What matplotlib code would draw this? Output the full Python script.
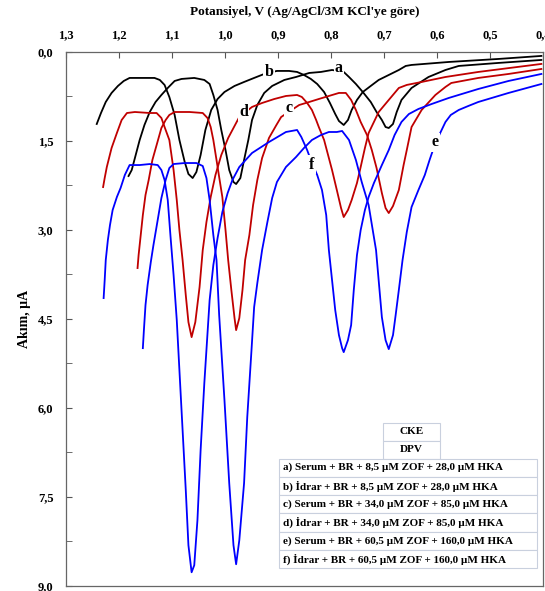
import matplotlib
matplotlib.use("Agg")
import matplotlib.pyplot as plt
from matplotlib.ticker import MultipleLocator, FuncFormatter
from matplotlib.patches import Rectangle

plt.rcParams['font.family'] = ['Liberation Serif', 'DejaVu Serif']
plt.rcParams['font.weight'] = 'bold'

# potential (V) and current (uA)
b_v = [1.242, 1.234, 1.225, 1.214, 1.202, 1.191, 1.180, 1.152, 1.133, 1.123, 1.114, 1.105, 1.095, 1.086,
       1.076, 1.069, 1.061, 1.054, 1.046, 1.037, 1.026, 1.014, 1.001, 0.982, 0.964, 0.945, 0.926, 0.902,
       0.879, 0.864, 0.851, 0.838, 0.826, 0.813, 0.802, 0.792, 0.785, 0.776, 0.768, 0.761, 0.751, 0.740,
       0.725, 0.710, 0.691, 0.672, 0.659, 0.648, 0.578, 0.484, 0.403]
b_i = [1.214, 1.029, 0.843, 0.691, 0.573, 0.489, 0.438, 0.438, 0.438, 0.472, 0.556, 0.759, 1.062, 1.484,
       1.855, 2.057, 2.125, 2.024, 1.737, 1.315, 0.978, 0.793, 0.675, 0.573, 0.506, 0.438, 0.371, 0.320,
       0.320, 0.337, 0.388, 0.455, 0.540, 0.675, 0.860, 1.046, 1.164, 1.231, 1.147, 0.978, 0.809, 0.675,
       0.573, 0.472, 0.388, 0.304, 0.236, 0.219, 0.169, 0.118, 0.067]

a_v = [1.182, 1.176, 1.170, 1.161, 1.152, 1.142, 1.131, 1.120, 1.108, 1.095, 1.082, 1.058, 1.039, 1.029,
       1.022, 1.014, 1.007, 0.999, 0.992, 0.984, 0.979, 0.971, 0.964, 0.956, 0.949, 0.939, 0.926, 0.911,
       0.888, 0.866, 0.841, 0.819, 0.798, 0.776, 0.766, 0.753, 0.740, 0.725, 0.714, 0.704, 0.697, 0.691,
       0.683, 0.676, 0.667, 0.648, 0.616, 0.584, 0.559, 0.484, 0.403]
a_i = [2.091, 1.990, 1.788, 1.484, 1.231, 1.012, 0.843, 0.725, 0.607, 0.489, 0.455, 0.438, 0.472, 0.540,
       0.725, 0.978, 1.315, 1.653, 1.990, 2.192, 2.226, 2.125, 1.821, 1.484, 1.147, 0.894, 0.691, 0.573,
       0.472, 0.422, 0.354, 0.337, 0.304, 0.337, 0.422, 0.540, 0.675, 0.843, 1.012, 1.147, 1.265, 1.282,
       1.214, 1.012, 0.809, 0.607, 0.422, 0.304, 0.236, 0.185, 0.135]

d_v = [1.230, 1.227, 1.223, 1.214, 1.204, 1.195, 1.185, 1.170, 1.142, 1.129, 1.120, 1.114, 1.105, 1.097,
       1.091, 1.086, 1.080, 1.074, 1.069, 1.063, 1.056, 1.048, 1.042, 1.035, 1.027, 1.018, 1.007, 0.994,
       0.980, 0.973, 0.949, 0.930, 0.907, 0.885, 0.864, 0.855, 0.845, 0.836, 0.828, 0.823, 0.813, 0.808,
       0.798, 0.789, 0.781, 0.776, 0.768, 0.761, 0.751, 0.744, 0.736, 0.729, 0.719, 0.710, 0.691, 0.672,
       0.657, 0.629, 0.584, 0.522, 0.403]
d_i = [2.277, 2.125, 1.939, 1.619, 1.366, 1.147, 1.029, 1.012, 1.029, 1.029, 1.113, 1.265, 1.484, 1.990,
       2.496, 3.002, 3.508, 4.098, 4.553, 4.806, 4.553, 3.963, 3.339, 2.867, 2.445, 2.074, 1.737, 1.450,
       1.214, 1.096, 0.927, 0.860, 0.793, 0.742, 0.725, 0.759, 0.860, 0.978, 1.147, 1.265, 1.484, 1.653,
       1.990, 2.327, 2.631, 2.782, 2.664, 2.496, 2.209, 1.939, 1.619, 1.366, 1.180, 1.012, 0.809, 0.607,
       0.556, 0.506, 0.422, 0.337, 0.202]

c_v = [1.165, 1.163, 1.159, 1.155, 1.150, 1.144, 1.137, 1.129, 1.120, 1.112, 1.105, 1.095, 1.067, 1.042,
       1.033, 1.027, 1.022, 1.016, 1.011, 1.005, 0.999, 0.994, 0.988, 0.982, 0.979, 0.973, 0.967, 0.962,
       0.954, 0.947, 0.939, 0.930, 0.917, 0.903, 0.894, 0.860, 0.841, 0.823, 0.804, 0.785, 0.772, 0.762,
       0.753, 0.744, 0.732, 0.723, 0.714, 0.704, 0.697, 0.691, 0.683, 0.672, 0.663, 0.657, 0.648, 0.629,
       0.603, 0.584, 0.573, 0.522, 0.465, 0.403]
c_i = [3.642, 3.423, 3.086, 2.749, 2.411, 2.158, 1.821, 1.568, 1.282, 1.147, 1.062, 1.012, 1.012, 1.029,
       1.113, 1.265, 1.484, 1.821, 2.108, 2.445, 3.002, 3.508, 4.013, 4.486, 4.688, 4.486, 4.013, 3.508,
       3.086, 2.580, 2.158, 1.788, 1.450, 1.231, 1.096, 0.894, 0.843, 0.793, 0.742, 0.691, 0.691, 0.809,
       0.978, 1.180, 1.400, 1.653, 1.956, 2.378, 2.631, 2.715, 2.597, 2.327, 1.906, 1.653, 1.265, 0.978,
       0.725, 0.590, 0.523, 0.438, 0.371, 0.287]

f_v = [1.229, 1.227, 1.225, 1.221, 1.217, 1.212, 1.204, 1.197, 1.189, 1.180, 1.161, 1.142, 1.127, 1.120,
       1.114, 1.108, 1.103, 1.097, 1.091, 1.086, 1.080, 1.074, 1.069, 1.063, 1.058, 1.052, 1.046, 1.039,
       1.029, 1.022, 1.014, 1.005, 0.995, 0.986, 0.973, 0.949, 0.917, 0.885, 0.864, 0.856, 0.845, 0.836,
       0.826, 0.817, 0.809, 0.804, 0.798, 0.792, 0.785, 0.779, 0.776, 0.768, 0.762, 0.757, 0.751, 0.744,
       0.736, 0.729, 0.719, 0.704, 0.691, 0.680, 0.667, 0.653, 0.635, 0.610, 0.578, 0.522, 0.465, 0.403]
f_i = [4.148, 3.845, 3.508, 3.170, 2.917, 2.664, 2.445, 2.293, 2.074, 1.906, 1.906, 1.889, 1.906, 1.990,
       2.158, 2.496, 3.086, 3.760, 4.519, 5.363, 6.374, 7.386, 8.313, 8.769, 8.651, 7.892, 6.712, 5.582,
       4.182, 3.592, 3.137, 2.698, 2.378, 2.158, 1.939, 1.703, 1.518, 1.349, 1.315, 1.433, 1.653, 1.872,
       2.074, 2.327, 2.749, 3.339, 3.845, 4.351, 4.772, 4.992, 5.059, 4.857, 4.604, 4.013, 3.423, 3.002,
       2.664, 2.445, 2.209, 1.906, 1.653, 1.400, 1.180, 1.046, 0.961, 0.877, 0.776, 0.624, 0.489, 0.371]

e_v = [1.155, 1.153, 1.150, 1.146, 1.140, 1.135, 1.127, 1.120, 1.112, 1.105, 1.097, 1.076, 1.054, 1.042,
       1.035, 1.029, 1.022, 1.016, 1.011, 1.001, 0.992, 0.984, 0.979, 0.973, 0.964, 0.958, 0.950, 0.945,
       0.939, 0.930, 0.920, 0.911, 0.902, 0.885, 0.866, 0.851, 0.836, 0.819, 0.804, 0.789, 0.779, 0.766,
       0.753, 0.742, 0.729, 0.715, 0.704, 0.697, 0.691, 0.683, 0.678, 0.672, 0.665, 0.657, 0.648, 0.635,
       0.623, 0.614, 0.603, 0.584, 0.574, 0.559, 0.541, 0.522, 0.465, 0.403]
e_i = [4.992, 4.688, 4.266, 3.929, 3.541, 3.255, 2.833, 2.462, 2.158, 1.956, 1.889, 1.872, 1.872, 1.922,
       2.125, 2.496, 3.086, 3.508, 4.435, 5.868, 7.268, 8.313, 8.634, 8.229, 7.268, 6.155, 5.025, 4.300,
       3.895, 3.339, 2.867, 2.462, 2.192, 1.939, 1.771, 1.619, 1.484, 1.400, 1.349, 1.349, 1.332, 1.484,
       1.821, 2.192, 2.580, 3.339, 4.469, 4.857, 5.008, 4.772, 4.435, 4.013, 3.508, 3.035, 2.614, 2.327,
       2.074, 1.821, 1.535, 1.180, 1.062, 0.978, 0.911, 0.843, 0.691, 0.540]

curve_labels = ['a', 'b', 'c', 'd', 'e', 'f']
label_v = [0.785, 0.917, 0.879, 0.965, 0.603, 0.836]
label_i = [0.27, 0.34, 0.94, 1.01, 1.52, 1.90]

box_title = ['CKE', 'DPV']
legend_rows = ['a) Serum + BR + 8,5 µM ZOF + 28,0 µM HKA',
               'b) İdrar + BR + 8,5 µM ZOF + 28,0 µM HKA',
               'c) Serum + BR + 34,0 µM ZOF + 85,0 µM HKA',
               'd) İdrar + BR + 34,0 µM ZOF + 85,0 µM HKA',
               'e) Serum + BR + 60,5 µM ZOF + 160,0 µM HKA',
               'f) İdrar + BR + 60,5 µM ZOF + 160,0 µM HKA']

black = '#000000'
red = '#c00000'
blue = '#0000ff'

fig = plt.figure(figsize=(5.45, 5.91), dpi=100)
ax = fig.add_axes([0.1211, 0.0085, 0.8752, 0.9036])

lw = 1.3
ax.plot(b_v, b_i, color=black, lw=lw)
ax.plot(a_v, a_i, color=black, lw=lw)
ax.plot(d_v, d_i, color=red, lw=lw)
ax.plot(c_v, c_i, color=red, lw=lw)
ax.plot(f_v, f_i, color=blue, lw=lw)
ax.plot(e_v, e_i, color=blue, lw=lw)

for lab, v, i in zip(curve_labels, label_v, label_i):
    ax.text(v, i, lab, fontsize=11.5, fontweight='bold', ha='center', va='center', zorder=5,
            bbox=dict(facecolor='white', edgecolor='none', pad=1.0))

ax.set_xlim(1.3, 0.4)
ax.set_ylim(9.0, 0.0)

fmt = FuncFormatter(lambda v, p: f"{v:.1f}".replace('.', ','))
ax.xaxis.tick_top()
ax.xaxis.set_label_position('top')
ax.xaxis.set_major_locator(MultipleLocator(0.1))
ax.xaxis.set_major_formatter(fmt)
ax.yaxis.set_major_locator(MultipleLocator(1.5))
ax.yaxis.set_minor_locator(MultipleLocator(0.75))
ax.yaxis.set_major_formatter(fmt)
ax.tick_params(axis='both', which='both', direction='in', labelsize=9, color='#555555')
ax.tick_params(axis='x', length=4, pad=8)
ax.tick_params(axis='y', length=4, pad=9)
ax.tick_params(axis='y', which='minor', length=4)
for s in ax.spines.values():
    s.set_color('#666666')
    s.set_linewidth(0.9)

ax.set_xlabel("Potansiyel, V (Ag/AgCl/3M KCl'ye göre)", fontsize=9.5, fontweight='bold', labelpad=10)
ax.set_ylabel("Akım, µA", fontsize=10, fontweight='bold', labelpad=5)

# legend table (axes fraction)
edge = '#c9d0de'
x0, x1 = 0.665, 0.784
ytop, rh = 0.306, 0.0337
for k, t in enumerate(box_title):
    y = ytop - (k + 1) * rh
    ax.add_patch(Rectangle((x0, y), x1 - x0, rh, transform=ax.transAxes, facecolor='white',
                           edgecolor=edge, lw=0.8, zorder=6))
    ax.text((x0 + x1) / 2, y + rh / 2, t, transform=ax.transAxes, fontsize=8, fontweight='bold',
            ha='center', va='center', zorder=7)
lx0, lx1 = 0.447, 0.988
ly = ytop - 2 * rh
lrh = 0.0342
for k, t in enumerate(legend_rows):
    y = ly - (k + 1) * lrh
    ax.add_patch(Rectangle((lx0, y), lx1 - lx0, lrh, transform=ax.transAxes, facecolor='white',
                           edgecolor=edge, lw=0.8, zorder=6))
    ax.text(lx0 + 0.008, y + lrh / 2, t, transform=ax.transAxes, fontsize=8, fontweight='bold',
            ha='left', va='center', zorder=7)

fig.savefig('out.png', dpi=100)
